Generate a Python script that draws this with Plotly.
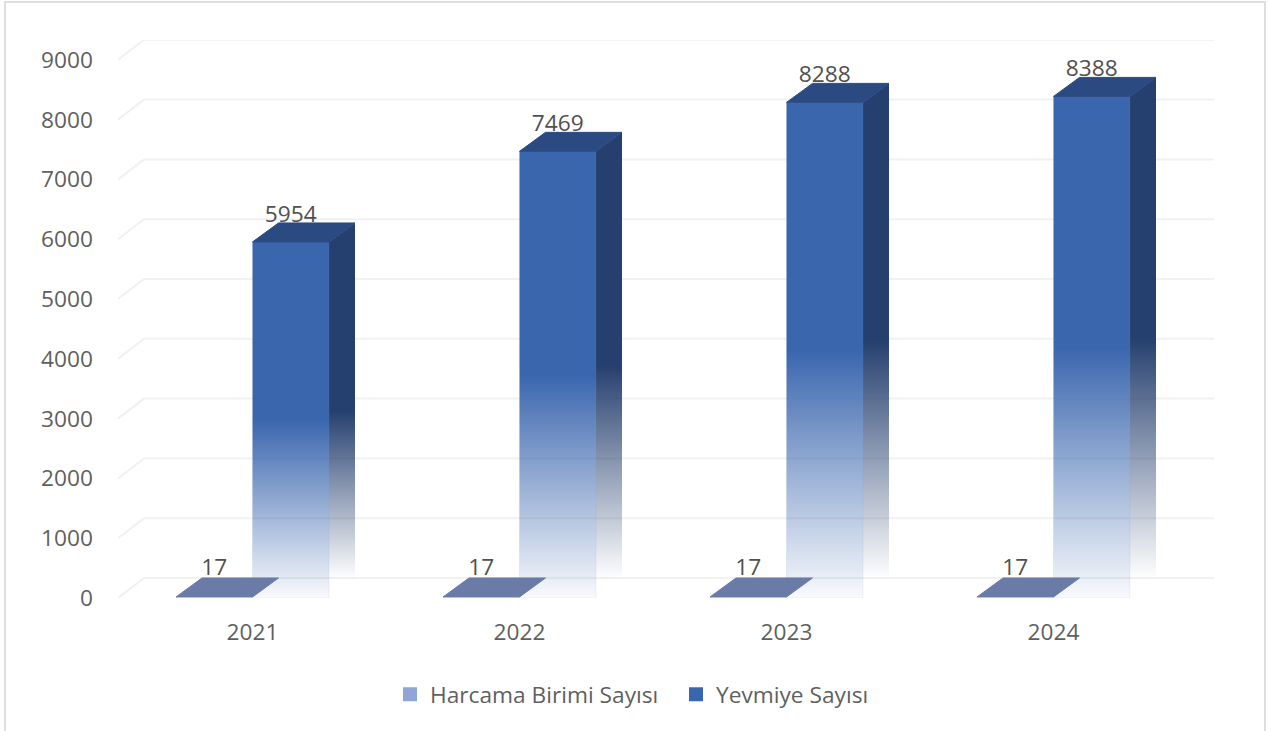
import plotly.graph_objects as go

years = ["2021", "2022", "2023", "2024"]
harcama = [17, 17, 17, 17]
yevmiye = [5954, 7469, 8288, 8388]
y_ticks = [0, 1000, 2000, 3000, 4000, 5000, 6000, 7000, 8000, 9000]

W, H = 1269, 731
L, R, T, B = 118, 1214, 40, 598
PX_X = 267.0
PX_Y = 59.8 / 1000
DX = 26 / PX_X          # oblique depth in x units
DY = 20 / PX_Y          # oblique depth in y units (walls)
DYB = 19 / PX_Y         # oblique depth in y units (bars)
BW = 76.5 / PX_X        # bar width in x units
XMIN = -0.5 - 1 / PX_X
XMAX = XMIN + (R - L) / PX_X
YMAX = (B - T) / PX_Y

TXT = "#5f5f5f"
FONT = "Open Sans"
FS = 22.7
GRID = "#f1f1f1"
FRONT = (58, 102, 174)
SIDE = (37, 63, 110)
TOP = "#2b4a82"
S1_TOP = "#6b7ba8"
S1_LEG = "#8fa6d6"
S2_LEG = "#3a66ae"


def rgb(c):
    return "rgb(%d,%d,%d)" % c


def fade(c, a=0.03):
    return [[0, "rgba(%d,%d,%d,%g)" % (c + (a,))], [0.5, rgb(c)], [1, rgb(c)]]


fig = go.Figure()


def poly(xs, ys, **kw):
    fig.add_trace(go.Scatter(x=xs, y=ys, mode="lines", fill="toself", showlegend=False,
                             hoverinfo="skip", **kw))


# walls: grid lines on the back plane, plus the oblique tick at the left
for v in y_ticks:
    fig.add_trace(go.Scatter(x=[XMIN, XMIN + DX, XMAX], y=[v, v + DY, v + DY], mode="lines",
                             line=dict(color=GRID, width=2), showlegend=False, hoverinfo="skip",
                             cliponaxis=False))

no_line = dict(color="rgba(0,0,0,0)", width=0)
for i, v in enumerate(yevmiye):
    x0, x1 = i, i + BW
    poly([x1, x1 + DX, x1 + DX, x1, x1], [0, DYB, v + DYB, v, 0], line=no_line,
         fillgradient=dict(type="vertical", colorscale=fade(SIDE, 0.0), start=DYB, stop=v))
    poly([x0, x1, x1, x0, x0], [0, 0, v, v, 0], line=dict(color="rgba(120,150,205,0.12)", width=1),
         fillgradient=dict(type="vertical", colorscale=fade(FRONT), start=0, stop=v))
    poly([x0, x1, x1 + DX, x0 + DX, x0], [v, v, v + DYB, v + DYB, v], fillcolor=TOP,
         line=dict(color=TOP, width=1))

for i, v in enumerate(harcama):
    x0, x1 = i - BW, i
    poly([x0, x1, x1 + DX, x0 + DX, x0], [v, v, v + DYB, v + DYB, v], fillcolor=S1_TOP,
         line=dict(color=S1_TOP, width=1))

UP1, UP2 = 465, 430
fig.add_trace(go.Scatter(
    x=[i - BW / 2 for i in range(4)] + [i + BW / 2 for i in range(4)],
    y=[v + UP1 for v in harcama] + [v + UP2 for v in yevmiye],
    text=[str(v) for v in harcama + yevmiye], mode="text", textposition="middle center",
    textfont=dict(family=FONT, size=FS, color="#505050"), showlegend=False, hoverinfo="skip"))

for name, col in [("Harcama Birimi Sayısı", S1_LEG), ("Yevmiye Sayısı", S2_LEG)]:
    fig.add_trace(go.Scatter(x=[None], y=[None], mode="markers", name=name,
                             marker=dict(symbol="square", size=14, color=col)))

fig.update_layout(
    width=W, height=H, autosize=False,
    margin=dict(l=L, r=W - R, t=T, b=H - B, autoexpand=False),
    plot_bgcolor="white", paper_bgcolor="white",
    font=dict(family=FONT, size=FS, color=TXT),
    xaxis=dict(range=[XMIN, XMAX], tickmode="array", tickvals=[0, 1, 2, 3], ticktext=years,
               showgrid=False, zeroline=False, showline=False, ticks="",
               ticklabelstandoff=18, tickfont=dict(family=FONT, size=FS, color=TXT)),
    yaxis=dict(range=[0, YMAX], tickmode="array", tickvals=y_ticks, ticktext=[str(t) for t in y_ticks],
               showgrid=False, zeroline=False, showline=False, ticks="",
               ticklabelstandoff=24, tickfont=dict(family=FONT, size=FS, color=TXT)),
    legend=dict(orientation="h", x=(390 - L) / (R - L), xanchor="left", xref="paper",
                y=(B - 673) / (B - T), yanchor="top", itemwidth=30, tracegroupgap=0,
                entrywidth=241, entrywidthmode="pixels",
                bgcolor="rgba(0,0,0,0)", font=dict(family=FONT, size=FS, color=TXT)),
    shapes=[dict(type="rect", xref="paper", yref="paper",
                 x0=(5 - L) / (R - L), x1=(1265 - L) / (R - L),
                 y0=(B - 760) / (B - T), y1=(B - 2) / (B - T),
                 line=dict(color="#dfdfdf", width=2), fillcolor="rgba(0,0,0,0)", layer="below")],
)

fig.write_html("out.html", config={"displayModeBar": False},
               post_script="document.body.style.margin='0';document.body.style.overflow='hidden';")
